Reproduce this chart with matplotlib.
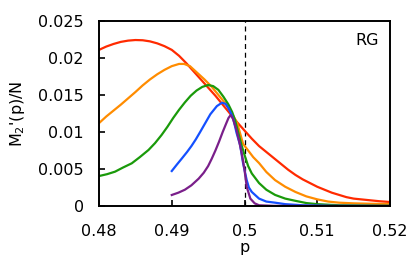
import matplotlib
matplotlib.use("Agg")
import matplotlib.pyplot as plt

red_p = [0.4800, 0.4810, 0.4820, 0.4830, 0.4840, 0.4850, 0.4860, 0.4870, 0.4880, 0.4890,
         0.4900, 0.4910, 0.4920, 0.4930, 0.4940, 0.4950, 0.4960, 0.4970, 0.4980, 0.4990,
         0.5000, 0.5010, 0.5020, 0.5030, 0.5040, 0.5050, 0.5060, 0.5070, 0.5080, 0.5090,
         0.5100, 0.5110, 0.5120, 0.5130, 0.5140, 0.5150, 0.5160, 0.5170, 0.5185, 0.5200]
red_v = [0.0211, 0.02155, 0.0219, 0.02218, 0.02235, 0.02243, 0.02240, 0.02225, 0.02198, 0.0216,
         0.0211, 0.0203, 0.0193, 0.0182, 0.0171, 0.0160, 0.0149, 0.0137, 0.0125, 0.0113,
         0.0102, 0.0091, 0.0081, 0.0073, 0.0065, 0.0057, 0.0049, 0.0042, 0.0036, 0.0031,
         0.0026, 0.0022, 0.0018, 0.0015, 0.0012, 0.0010, 0.0009, 0.0008, 0.00065, 0.00054]

orange_p = [0.4800, 0.4810, 0.4820, 0.4830, 0.4840, 0.4850, 0.4860, 0.4870, 0.4880, 0.4890,
            0.4900, 0.4910, 0.4917, 0.4925, 0.4935, 0.4945, 0.4955, 0.4965, 0.4975, 0.4985,
            0.4990, 0.4994, 0.4998, 0.5005, 0.5012, 0.5020, 0.5030, 0.5042, 0.5056, 0.5070,
            0.5085, 0.5100, 0.5115, 0.5130, 0.5150, 0.5175, 0.5200]
orange_v = [0.0112, 0.0121, 0.0129, 0.0137, 0.01455, 0.0154, 0.0163, 0.0171, 0.0178, 0.0184,
            0.0189, 0.0192, 0.0192, 0.0189, 0.0180, 0.0171, 0.0161, 0.0149, 0.0137, 0.0121,
            0.0112, 0.0098, 0.0084, 0.0075, 0.0066, 0.0058, 0.0046, 0.0035, 0.0026, 0.0019,
            0.0013, 0.0009, 0.0006, 0.00045, 0.00036, 0.0003, 0.00027]

green_p = [0.4800, 0.4811, 0.4822, 0.4833, 0.4845, 0.4856, 0.4868, 0.4877, 0.4886, 0.4894,
           0.4902, 0.4910, 0.4918, 0.4926, 0.4934, 0.4942, 0.4950, 0.4957, 0.4964, 0.4971,
           0.4978, 0.4983, 0.4987, 0.4992, 0.4996, 0.5000, 0.5005, 0.5010, 0.5020, 0.5030,
           0.5042, 0.5056, 0.5070, 0.5085, 0.5100, 0.5130, 0.5200]
green_v = [0.00405, 0.0043, 0.00464, 0.0052, 0.00577, 0.0066, 0.00757, 0.0085, 0.0096, 0.0107,
           0.0119, 0.0130, 0.0140, 0.0149, 0.0156, 0.0161, 0.01635, 0.0162, 0.0157, 0.01477,
           0.0137, 0.0127, 0.0116, 0.0097, 0.0082, 0.0069, 0.0054, 0.0044, 0.0031, 0.0022,
           0.0015, 0.0010, 0.0007, 0.0004, 0.00025, 0.0001, 0.00003]

blue_p = [0.4900, 0.4907, 0.4914, 0.4921, 0.4927, 0.4933, 0.4939, 0.4946, 0.4953, 0.4962,
          0.4969, 0.4974, 0.4978, 0.4982, 0.4985, 0.4989, 0.4994, 0.4998, 0.5003, 0.5006,
          0.5010, 0.5020, 0.5030, 0.5042, 0.5056, 0.5080, 0.5120, 0.5200]
blue_v = [0.00473, 0.0056, 0.00644, 0.0073, 0.0081, 0.0090, 0.0100, 0.0112, 0.0124, 0.0135,
          0.01396, 0.0138, 0.0132, 0.0124, 0.0116, 0.0099, 0.0082, 0.0058, 0.0035, 0.0025,
          0.0019, 0.0010, 0.0006, 0.00045, 0.00025, 0.0001, 0.00002, 0.0]

purple_p = [0.4900, 0.4909, 0.4918, 0.4927, 0.4937, 0.4944, 0.4950, 0.4955, 0.4960, 0.4965,
            0.4970, 0.4975, 0.4978, 0.4981, 0.4984, 0.4989, 0.4993, 0.4996, 0.5000, 0.5003,
            0.5008, 0.5014, 0.5020, 0.5040, 0.5200]
purple_v = [0.00149, 0.0018, 0.00220, 0.0028, 0.0037, 0.0045, 0.0054, 0.0064, 0.0075, 0.0087,
            0.0100, 0.0112, 0.0119, 0.0123, 0.0118, 0.0103, 0.0086, 0.0072, 0.0049, 0.0026,
            0.0010, 0.00036, 0.0001, 0.00002, 0.0]

x_ticks = [0.48, 0.49, 0.50, 0.51, 0.52]
x_tick_labels = ["0.48", "0.49", "0.5", "0.51", "0.52"]
y_ticks = [0, 0.005, 0.01, 0.015, 0.02, 0.025]
y_tick_labels = ["0", "0.005", "0.01", "0.015", "0.02", "0.025"]

fig = plt.figure(figsize=(4.15, 2.68), dpi=100)
ax = fig.add_axes([0.2386, 0.2313, 0.7012, 0.6903])

series = [
    (red_p, red_v, "#ff2a00"),
    (orange_p, orange_v, "#ff8c00"),
    (green_p, green_v, "#1a9a0a"),
    (blue_p, blue_v, "#1450ff"),
    (purple_p, purple_v, "#7a1f8a"),
]
ax.axvline(0.5, color="black", linestyle=(0, (4, 3)), linewidth=0.9, zorder=1)
for p, v, c in series:
    ax.plot(p, v, color=c, linewidth=1.6, solid_joinstyle="round", zorder=2)

ax.set_xlim(0.48, 0.52)
ax.set_ylim(0, 0.025)
ax.set_xticks(x_ticks)
ax.set_xticklabels(x_tick_labels)
ax.set_yticks(y_ticks)
ax.set_yticklabels(y_tick_labels)
ax.tick_params(direction="in", length=4, width=1.2, labelsize=11.5,
               top=False, right=False)
ax.tick_params(axis="y", pad=11)
ax.tick_params(axis="x", pad=13)
for s in ax.spines.values():
    s.set_linewidth(1.4)
ax.set_xlabel("p", fontsize=11.5, labelpad=1)
ax.set_ylabel("M$_2$'(p)/N", fontsize=11.5, labelpad=8)
ax.text(0.96, 0.897, "RG", transform=ax.transAxes, ha="right", va="center", fontsize=11.5)

fig.savefig("out.png", dpi=100)
